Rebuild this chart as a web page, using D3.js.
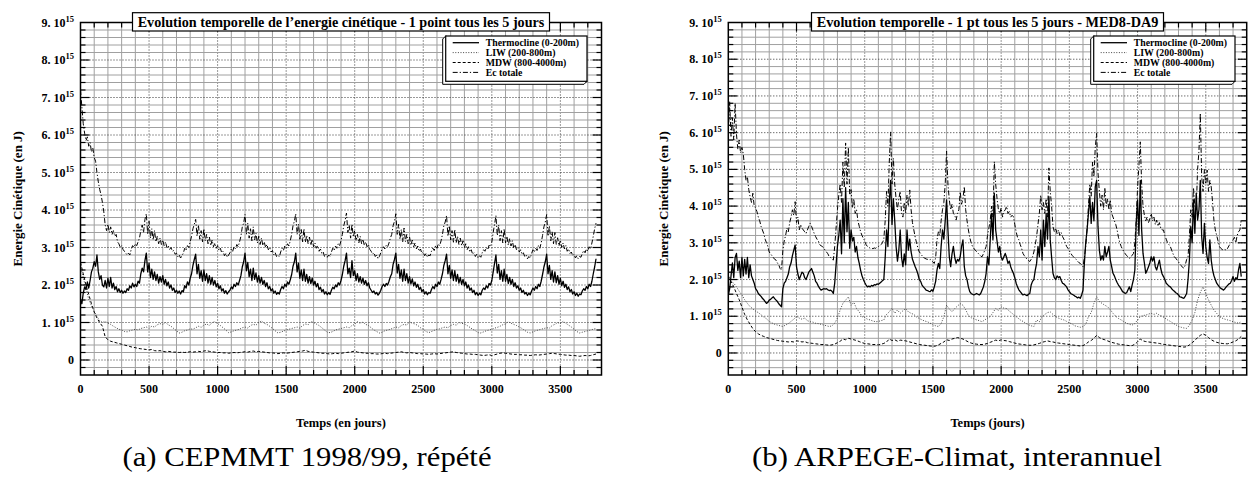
<!DOCTYPE html>
<html>
<head>
<meta charset="utf-8">
<script src="https://cdn.jsdelivr.net/npm/d3@7"></script>
<style>
  body { margin: 0; background: #fff; }
  svg text { font-family: "Liberation Serif", "Times New Roman", serif; }
</style>
</head>
<body>
<svg id="chart" width="1251" height="497"></svg>
<script>
// values in 10^15 J ; thermocline & total sampled every 10 days, LIW & MDW every 20 days

// (a) CEPMMT 1998/99 repeated
const ceThermo = [
  1.60,1.50,1.78,1.95,1.88,2.08,1.92,2.12,2.35,2.45,
  2.62,2.50,2.80,2.35,2.15,2.25,2.00,1.95,2.12,1.92,
  2.18,1.96,2.20,1.92,2.05,1.88,1.96,1.82,1.90,1.80,
  1.86,1.78,1.84,1.80,1.90,1.86,1.98,1.92,2.05,1.95,
  2.02,1.96,2.10,2.05,2.30,2.45,2.35,2.65,2.85,2.35,
  2.58,2.20,2.42,2.15,2.35,2.12,2.28,2.05,2.22,2.08,
  2.25,2.02,2.15,1.98,2.08,1.92,2.00,1.86,1.92,1.80,
  1.86,1.78,1.84,1.76,1.85,1.82,1.98,1.92,2.08,2.00,
  2.18,2.30,2.52,2.68,2.82,2.30,2.55,2.18,2.38,2.10,
  2.40,2.12,2.30,2.05,2.25,2.02,2.20,2.00,2.12,1.95,
  2.05,1.90,1.98,1.84,1.90,1.78,1.85,1.76,1.82,1.86,
  1.95,1.90,2.02,1.96,2.06,2.00,2.12,2.25,2.48,2.62,
  2.85,2.38,2.60,2.22,2.42,2.12,2.45,2.15,2.32,2.08,
  2.25,2.05,2.20,2.02,2.12,1.96,2.06,1.90,1.96,1.84,
  1.90,1.78,1.84,1.75,1.80,1.76,1.88,1.96,1.90,2.02,
  1.96,2.08,2.02,2.14,2.28,2.50,2.62,2.85,2.35,2.58,
  2.18,2.40,2.12,2.42,2.10,2.28,2.05,2.22,2.04,2.18,
  2.00,2.10,1.95,2.04,1.88,1.94,1.82,1.88,1.76,1.82,
  1.74,1.80,1.75,1.86,1.94,1.90,2.00,1.95,2.06,2.00,
  2.12,2.28,2.50,2.65,2.85,2.30,2.45,2.20,2.65,2.25,
  2.38,2.12,2.30,2.08,2.22,2.05,2.18,2.02,2.12,1.98,
  2.06,1.92,1.86,1.80,1.84,1.76,1.80,1.73,1.78,1.86,
  1.96,2.02,1.96,2.04,2.00,2.10,2.22,2.30,2.55,2.68,
  2.85,2.32,2.55,2.18,2.40,2.10,2.42,2.12,2.30,2.05,
  2.22,2.03,2.16,1.98,2.08,1.94,2.02,1.88,1.94,1.82,
  1.88,1.76,1.82,1.74,1.80,1.78,1.88,1.96,1.90,2.02,
  1.96,2.08,2.02,2.15,2.30,2.52,2.65,2.82,2.30,2.52,
  2.18,2.40,2.12,2.38,2.10,2.28,2.05,2.20,2.02,2.15,
  1.98,2.08,1.92,2.00,1.86,1.92,1.80,1.86,1.74,1.80,
  1.72,1.78,1.74,1.86,1.92,1.88,1.98,1.92,2.04,2.00,
  2.12,2.35,2.58,2.80,2.32,2.55,2.15,2.38,2.10,2.42,
  2.10,2.28,2.04,2.20,2.02,2.15,1.96,2.06,1.92,1.98,
  1.86,1.92,1.80,1.86,1.76,1.80,1.72,1.78,1.74,1.84,
  1.92,1.86,1.96,1.90,2.02,1.96,2.10,2.28,2.48,2.62,
  2.82,2.30,2.52,2.15,2.38,2.08,2.35,2.06,2.25,2.02,
  2.18,1.98,2.10,1.94,2.02,1.88,1.95,1.82,1.88,1.76,
  1.82,1.72,1.78,1.70,1.76,1.74,1.84,1.90,1.86,1.96,
  1.90,2.02,1.96,2.10,2.30,2.48,2.70
];
const ceLiw = [
  2.50,2.20,1.90,1.62,1.45,1.30,1.16,1.05,1.00,1.03,
  0.98,0.95,0.90,0.86,0.82,0.80,0.76,0.75,0.78,0.80,
  0.82,0.80,0.84,0.86,0.88,0.85,0.90,0.88,0.94,0.97,
  0.95,1.00,0.94,0.90,0.84,0.78,0.72,0.74,0.78,0.80,
  0.83,0.82,0.86,0.90,0.87,0.93,0.96,0.92,1.00,1.02,
  0.97,0.92,0.86,0.80,0.73,0.75,0.78,0.80,0.82,0.86,
  0.88,0.85,0.92,0.95,0.93,1.00,1.04,0.98,0.95,0.90,
  0.84,0.78,0.72,0.74,0.77,0.80,0.82,0.84,0.86,0.88,
  0.85,0.92,0.96,0.94,1.03,1.00,0.96,0.92,0.86,0.80,
  0.74,0.73,0.76,0.80,0.82,0.84,0.86,0.88,0.86,0.92,
  0.95,1.02,0.98,1.01,0.95,0.92,0.86,0.80,0.76,0.72,
  0.74,0.78,0.80,0.82,0.85,0.88,0.86,0.92,0.95,0.93,
  1.02,0.98,0.96,0.92,0.86,0.82,0.76,0.73,0.76,0.79,
  0.82,0.83,0.86,0.88,0.86,0.92,0.95,0.93,1.00,0.98,
  0.96,0.92,0.87,0.82,0.78,0.73,0.72,0.75,0.78,0.80,
  0.82,0.85,0.87,0.90,0.94,0.96,1.02,0.98,0.95,0.92,
  0.88,0.84,0.79,0.74,0.72,0.75,0.78,0.80,0.82,0.84,
  0.86,0.85,0.92,0.95,1.00,0.97,1.03,0.98,0.93,0.88,
  0.82,0.76,0.72,0.74,0.76,0.78,0.80,0.82,0.84
];
const ceMdw = [
  2.60,2.30,2.00,1.75,1.50,1.28,1.12,1.00,0.90,0.62,
  0.54,0.50,0.48,0.46,0.44,0.42,0.40,0.38,0.36,0.34,
  0.33,0.31,0.30,0.29,0.28,0.27,0.28,0.25,0.24,0.25,
  0.23,0.22,0.23,0.22,0.21,0.21,0.20,0.21,0.20,0.21,
  0.22,0.21,0.22,0.23,0.22,0.24,0.25,0.23,0.22,0.21,
  0.20,0.20,0.19,0.19,0.18,0.19,0.20,0.19,0.20,0.21,
  0.22,0.21,0.23,0.24,0.22,0.23,0.22,0.21,0.20,0.19,
  0.19,0.18,0.17,0.18,0.19,0.18,0.19,0.20,0.21,0.22,
  0.23,0.24,0.26,0.23,0.22,0.21,0.20,0.19,0.18,0.18,
  0.17,0.16,0.17,0.18,0.17,0.18,0.19,0.20,0.21,0.22,
  0.24,0.21,0.20,0.19,0.18,0.18,0.17,0.17,0.16,0.16,
  0.17,0.18,0.17,0.18,0.19,0.20,0.21,0.22,0.20,0.19,
  0.20,0.19,0.18,0.17,0.17,0.16,0.16,0.15,0.16,0.17,
  0.16,0.17,0.18,0.19,0.20,0.21,0.22,0.20,0.19,0.18,
  0.17,0.16,0.16,0.15,0.15,0.14,0.13,0.12,0.13,0.14,
  0.12,0.14,0.16,0.18,0.19,0.18,0.17,0.16,0.15,0.15,
  0.14,0.14,0.13,0.13,0.12,0.13,0.14,0.13,0.14,0.15,
  0.16,0.17,0.18,0.17,0.16,0.15,0.14,0.13,0.13,0.12,
  0.12,0.11,0.10,0.11,0.12,0.11,0.12,0.14,0.16
];
const ceTotal = [
  7.20,6.75,6.30,6.05,5.85,5.95,5.70,5.80,5.55,5.65,
  5.40,5.30,5.00,4.75,4.55,4.40,4.20,3.95,3.60,3.45,
  3.62,3.40,3.55,3.35,3.45,3.30,3.35,3.15,3.10,3.00,
  3.05,2.95,2.90,2.85,2.80,2.85,2.80,2.95,3.05,3.00,
  3.10,3.05,3.15,3.25,3.45,3.60,3.40,3.75,3.90,3.35,
  3.70,3.25,3.50,3.20,3.45,3.15,3.30,3.10,3.25,3.08,
  3.20,3.05,3.15,3.00,3.05,2.95,3.00,2.90,2.92,2.82,
  2.85,2.75,2.80,2.72,2.78,2.85,2.98,2.92,3.05,3.00,
  3.15,3.30,3.50,3.62,3.75,3.30,3.60,3.22,3.45,3.15,
  3.50,3.18,3.35,3.10,3.28,3.05,3.20,3.02,3.12,2.98,
  3.05,2.92,2.98,2.86,2.90,2.78,2.84,2.74,2.80,2.86,
  2.96,2.90,3.02,2.96,3.08,3.02,3.15,3.30,3.55,3.65,
  3.88,3.35,3.65,3.25,3.50,3.18,3.55,3.20,3.38,3.12,
  3.30,3.08,3.25,3.05,3.15,3.00,3.08,2.94,3.00,2.88,
  2.92,2.80,2.86,2.76,2.80,2.75,2.88,2.98,2.92,3.04,
  2.98,3.10,3.04,3.18,3.35,3.58,3.70,3.90,3.35,3.62,
  3.22,3.48,3.15,3.50,3.14,3.32,3.10,3.28,3.06,3.22,
  3.02,3.12,2.98,3.05,2.90,2.96,2.84,2.88,2.76,2.82,
  2.74,2.80,2.76,2.88,2.98,2.92,3.04,2.98,3.10,3.05,
  3.18,3.35,3.58,3.72,3.92,3.40,3.60,3.25,3.62,3.28,
  3.45,3.18,3.35,3.12,3.30,3.10,3.22,3.06,3.15,3.02,
  3.08,2.95,2.90,2.82,2.86,2.76,2.80,2.70,2.76,2.86,
  2.96,3.02,2.96,3.06,3.02,3.12,3.25,3.35,3.58,3.70,
  3.90,3.35,3.62,3.22,3.48,3.15,3.52,3.16,3.35,3.10,
  3.28,3.06,3.20,3.02,3.12,2.96,3.04,2.90,2.96,2.84,
  2.88,2.78,2.84,2.74,2.80,2.78,2.90,2.98,2.92,3.05,
  2.98,3.10,3.05,3.18,3.35,3.58,3.68,3.85,3.30,3.58,
  3.20,3.45,3.14,3.48,3.12,3.30,3.08,3.25,3.05,3.18,
  3.00,3.10,2.94,3.02,2.88,2.94,2.82,2.86,2.76,2.82,
  2.72,2.78,2.74,2.86,2.94,2.90,3.00,2.94,3.06,3.02,
  3.15,3.40,3.62,3.85,3.32,3.60,3.18,3.45,3.12,3.50,
  3.12,3.30,3.06,3.24,3.04,3.18,2.98,3.08,2.94,3.00,
  2.88,2.94,2.82,2.86,2.76,2.80,2.70,2.76,2.72,2.84,
  2.94,2.88,2.98,2.92,3.05,2.98,3.12,3.32,3.55,3.68,
  3.88,3.30,3.58,3.18,3.42,3.10,3.40,3.08,3.26,3.04,
  3.20,3.00,3.12,2.96,3.05,2.90,2.96,2.84,2.88,2.78,
  2.82,2.72,2.78,2.70,2.76,2.74,2.84,2.92,2.86,2.96,
  2.90,3.02,2.96,3.12,3.30,3.50,3.65
];

// (b) ARPEGE-Climat interannual
const arThermo = [
  1.57,1.75,2.10,2.45,2.05,2.60,2.71,2.25,2.50,2.05,
  2.60,2.10,2.55,2.15,2.60,2.05,2.40,2.10,2.00,1.90,
  1.75,1.70,1.62,1.58,1.54,1.49,1.45,1.40,1.35,1.38,
  1.44,1.46,1.50,1.53,1.48,1.44,1.40,1.34,1.30,1.26,
  1.75,1.90,1.95,2.05,2.15,2.35,2.45,2.65,2.80,2.94,
  2.35,2.15,2.00,2.10,2.20,2.17,2.05,2.00,2.10,2.20,
  2.25,2.30,2.20,2.10,1.95,1.90,1.82,1.76,1.71,1.73,
  1.75,1.74,1.75,1.72,1.70,1.71,1.68,1.62,1.90,2.40,
  2.90,3.20,3.62,2.70,4.20,3.00,4.50,3.30,4.10,2.85,
  3.35,3.05,3.15,2.75,2.90,2.60,2.44,2.25,2.10,2.00,
  1.92,1.85,1.80,1.82,1.80,1.84,1.82,1.86,1.85,1.88,
  1.87,1.90,1.93,1.97,2.00,2.60,3.35,2.90,4.10,4.70,
  3.50,4.20,3.60,2.90,2.50,2.80,3.35,2.60,2.35,2.70,
  2.40,3.35,2.80,3.10,2.75,2.55,2.45,2.35,2.26,2.15,
  2.00,1.95,1.85,1.80,1.76,1.71,1.70,1.68,1.67,1.72,
  1.68,1.80,1.95,2.26,2.44,2.30,2.90,3.35,3.10,3.60,
  4.17,3.35,2.62,2.35,2.70,2.90,2.60,2.44,2.55,2.50,
  2.62,2.90,3.08,2.35,2.10,2.00,1.80,1.67,1.62,1.60,
  1.58,1.60,1.62,1.60,1.58,1.62,1.71,1.80,1.95,2.17,
  2.62,2.40,3.08,3.80,3.08,4.35,3.35,3.05,2.75,2.90,
  2.60,2.53,2.62,2.71,2.60,2.44,2.50,2.35,2.25,2.17,
  2.05,1.90,1.80,1.72,1.67,1.62,1.58,1.60,1.58,1.56,
  1.60,1.62,1.85,1.95,2.00,2.25,2.44,2.90,2.62,3.35,
  2.53,3.62,2.90,3.80,3.10,4.26,3.08,2.60,2.17,2.05,
  2.00,2.10,2.05,2.08,1.98,1.90,1.88,1.84,1.80,1.72,
  1.67,1.62,1.60,1.58,1.55,1.53,1.50,1.52,1.49,1.58,
  1.71,2.44,3.00,3.35,3.80,4.26,3.53,4.10,3.60,4.53,
  4.70,3.44,2.80,2.53,2.65,2.53,2.90,2.62,2.75,2.90,
  2.53,2.35,2.17,2.10,2.00,1.92,1.85,1.80,1.74,1.67,
  1.65,1.62,1.64,1.72,1.80,1.67,1.85,2.00,2.26,3.53,
  4.17,3.20,4.70,3.35,2.71,2.45,2.17,2.25,2.35,2.45,
  2.62,2.50,2.62,2.35,2.26,2.40,2.53,2.30,2.15,2.08,
  2.00,1.90,1.86,1.82,1.80,1.75,1.71,1.68,1.64,1.62,
  1.58,1.53,1.52,1.50,1.49,1.55,1.62,2.00,2.53,3.44,
  3.00,4.17,3.26,4.35,3.62,3.90,4.70,3.17,2.71,3.53,
  2.90,2.60,2.44,3.08,2.53,2.26,2.10,2.00,1.90,1.85,
  1.80,1.76,1.74,1.71,1.75,1.80,1.84,1.88,1.90,1.98,
  2.08,1.95,2.05,2.00,2.26,2.44,2.08
];
const arLiw = [
  2.00,1.95,1.90,1.80,1.68,1.58,1.45,1.35,1.26,1.20,
  1.14,1.10,1.04,0.98,0.93,0.86,0.82,0.78,0.76,0.74,
  0.72,0.76,0.80,0.86,0.92,0.99,0.95,0.92,0.95,0.88,
  0.85,0.84,0.81,0.80,0.78,0.76,0.74,0.72,0.74,0.81,
  0.95,1.17,1.35,1.44,1.53,1.30,1.38,1.21,1.12,0.99,
  0.96,0.92,0.90,0.87,0.85,0.86,0.88,0.90,1.05,1.12,
  1.22,1.08,1.17,1.08,1.15,1.21,1.12,1.08,1.05,0.98,
  0.94,0.90,0.87,0.85,0.81,0.77,0.74,0.72,0.80,0.99,
  1.30,1.20,1.12,1.21,1.28,1.34,1.30,1.18,1.02,0.96,
  0.93,0.90,0.88,0.85,0.90,0.95,0.99,1.10,1.21,1.16,
  1.26,1.22,1.21,1.14,1.08,1.02,0.96,0.90,0.86,0.81,
  0.77,0.74,0.72,0.90,0.85,0.99,1.05,1.10,1.12,1.05,
  0.99,0.95,0.92,0.90,0.86,0.82,0.79,0.74,0.72,0.70,
  0.72,0.78,0.99,1.10,1.35,1.53,1.40,1.35,1.30,1.26,
  1.18,1.08,1.00,0.94,0.90,0.85,0.81,0.78,0.76,0.80,
  0.90,0.99,1.02,1.03,1.06,1.08,1.05,1.08,1.03,1.00,
  0.95,0.90,0.86,0.81,0.77,0.72,0.70,0.68,0.67,0.75,
  0.90,1.10,1.44,1.65,1.80,1.62,1.45,1.30,1.17,1.08,
  0.99,0.95,0.92,0.90,0.88,0.85,0.83,0.81,0.85
];
const arMdw = [
  2.10,1.95,1.80,1.62,1.45,1.25,1.05,0.90,0.78,0.66,
  0.58,0.52,0.48,0.45,0.42,0.40,0.38,0.36,0.34,0.33,
  0.32,0.31,0.30,0.31,0.30,0.33,0.32,0.30,0.31,0.28,
  0.27,0.26,0.25,0.24,0.23,0.23,0.22,0.21,0.22,0.24,
  0.28,0.32,0.38,0.36,0.40,0.38,0.36,0.34,0.31,0.28,
  0.26,0.25,0.24,0.23,0.23,0.22,0.24,0.26,0.30,0.38,
  0.34,0.36,0.32,0.35,0.34,0.33,0.31,0.29,0.27,0.25,
  0.23,0.22,0.21,0.20,0.19,0.18,0.19,0.22,0.26,0.30,
  0.36,0.34,0.38,0.40,0.42,0.40,0.38,0.34,0.30,0.27,
  0.25,0.24,0.23,0.23,0.24,0.26,0.29,0.32,0.35,0.33,
  0.36,0.34,0.33,0.31,0.29,0.27,0.25,0.24,0.23,0.22,
  0.21,0.21,0.22,0.24,0.26,0.29,0.31,0.33,0.31,0.30,
  0.28,0.27,0.26,0.25,0.24,0.23,0.22,0.21,0.20,0.19,
  0.20,0.24,0.30,0.34,0.40,0.48,0.42,0.38,0.36,0.33,
  0.30,0.28,0.26,0.24,0.23,0.22,0.21,0.20,0.20,0.24,
  0.30,0.38,0.33,0.31,0.30,0.29,0.28,0.27,0.26,0.24,
  0.23,0.22,0.21,0.20,0.19,0.18,0.17,0.16,0.17,0.22,
  0.28,0.34,0.42,0.48,0.52,0.48,0.42,0.36,0.32,0.29,
  0.27,0.26,0.25,0.25,0.27,0.30,0.33,0.38,0.45
];
const arTotal = [
  6.00,6.84,5.90,6.40,5.80,6.80,5.95,5.55,5.80,5.45,
  5.60,5.42,5.00,4.70,4.80,4.45,4.25,4.10,4.35,4.00,
  3.95,3.85,3.70,3.60,3.45,3.35,3.25,3.10,3.00,2.90,
  2.75,2.70,2.65,2.60,2.55,2.53,2.45,2.40,2.30,2.26,
  2.80,3.05,3.20,3.40,3.30,3.55,3.70,3.90,3.75,4.12,
  3.55,3.70,3.35,3.50,3.40,3.35,3.30,3.25,3.35,3.45,
  3.53,3.45,3.35,3.25,3.17,3.10,3.05,2.95,2.92,2.90,
  2.85,2.80,2.75,2.70,2.62,2.60,2.55,2.53,2.90,3.40,
  3.90,4.30,4.60,4.10,5.20,4.50,5.72,4.60,5.60,4.30,
  4.45,3.95,4.20,3.80,3.90,3.60,3.45,3.30,3.20,3.12,
  3.05,2.95,2.90,2.88,2.85,2.86,2.84,2.86,2.85,2.88,
  2.90,2.92,2.95,3.00,3.10,3.60,4.40,4.00,5.20,6.02,
  4.60,5.30,4.60,4.20,3.90,4.20,4.40,3.80,3.70,4.10,
  3.80,4.30,4.00,4.44,3.90,3.55,3.35,3.15,3.00,2.85,
  2.75,2.71,2.65,2.60,2.58,2.56,2.55,2.53,2.55,2.52,
  2.48,2.44,2.60,3.08,3.30,3.20,3.60,3.90,4.10,4.60,
  5.50,4.60,4.17,3.90,4.05,3.80,3.75,3.62,3.80,3.90,
  4.39,4.05,4.20,4.53,3.90,3.60,3.35,3.15,3.00,2.90,
  2.85,2.80,2.76,2.72,2.68,2.64,2.62,2.70,2.80,2.90,
  3.20,3.40,3.62,4.00,3.70,5.21,4.60,4.20,3.90,3.80,
  3.95,3.70,3.85,3.90,3.99,3.80,3.85,3.70,3.75,3.71,
  3.50,3.30,3.15,3.08,2.95,2.85,2.71,2.65,2.60,2.55,
  2.52,2.49,2.55,2.62,2.75,2.95,3.17,3.50,3.80,4.30,
  3.90,4.10,3.80,4.20,3.70,5.04,4.40,4.00,3.44,3.30,
  3.40,3.25,3.35,3.20,3.28,3.17,3.10,3.00,2.90,2.85,
  2.78,2.72,2.66,2.62,2.58,2.55,2.50,2.46,2.44,2.40,
  2.35,2.60,2.90,3.40,4.00,4.60,4.27,5.20,4.80,5.60,
  5.98,4.90,4.40,4.00,4.30,3.90,4.50,4.00,4.20,3.90,
  4.17,3.80,3.70,3.60,3.50,3.35,3.15,3.00,2.90,2.82,
  2.76,2.70,2.65,2.62,2.58,2.60,2.66,2.71,3.00,3.62,
  4.50,5.10,5.75,4.60,4.00,3.75,3.60,3.70,3.55,3.65,
  3.80,3.60,3.70,3.50,3.62,3.45,3.55,3.40,3.35,3.35,
  3.20,3.10,3.00,2.95,2.90,2.80,2.70,2.62,2.58,2.53,
  2.48,2.42,2.38,2.33,2.31,2.40,2.55,2.62,3.20,3.90,
  3.70,4.50,4.00,3.90,5.00,5.50,6.53,4.80,4.40,5.00,
  4.60,4.98,4.40,4.70,4.52,4.10,3.60,3.35,3.20,3.05,
  2.90,2.85,2.82,2.80,2.82,2.80,2.85,2.92,2.98,3.02,
  3.08,3.15,3.00,3.20,3.30,3.35,3.62
];

const seriesNames = ['Thermocline (0-200m)', 'LIW (200-800m)', 'MDW (800-4000m)', 'Ec totale'];
const seriesSteps = [10, 20, 20, 10];
const xTickValues = [0, 500, 1000, 1500, 2000, 2500, 3000, 3500];
const yTickValues = [0, 1, 2, 3, 4, 5, 6, 7, 8, 9];

const styles = [
  { width: 1.3, dash: null, color: '#000' },
  { width: 1.0, dash: '1,1.6', color: '#444' },
  { width: 1.0, dash: '3,2', color: '#000' },
  { width: 1.0, dash: '5,2,1.2,2', color: '#000' }
];

const panels = [
  {
    id: 'a', left: 80.5, right: 601.5, yMin: -0.4,
    title: 'Evolution temporelle de l\u2019energie cinétique - 1 point tous les 5 jours', titleW: 407,
    xTitle: 'Temps (en jours)', caption: '(a) CEPMMT 1998/99, répété', capX: 307, capW: 369,
    yTitleX: 17, legendRight: 587,
    data: [ceThermo, ceLiw, ceMdw, ceTotal]
  },
  {
    id: 'b', left: 728.3, right: 1246.7, yMin: -0.6,
    title: 'Evolution temporelle - 1 pt tous les 5 jours - MED8-DA9', titleW: 342,
    xTitle: 'Temps (jours)', caption: '(b) ARPEGE-Climat, interannuel', capX: 957, capW: 410,
    yTitleX: 663, legendRight: 1235,
    data: [arThermo, arLiw, arMdw, arTotal]
  }
];

const TOP = 22.5, BOTTOM = 375;
const svg = d3.select('#chart');

panels.forEach(p => {
  const g = svg.append('g').attr('class', 'panel-' + p.id);
  const x = d3.scaleLinear().domain([0, 3800]).range([p.left, p.right]);
  const y = d3.scaleLinear().domain([p.yMin, 9]).range([BOTTOM, TOP]);

  // grid
  const xs = d3.range(1, 38).map(k => k * 100);
  const ys = d3.range(Math.round(p.yMin * 5) + 1, 45).map(k => k / 5);
  const isMajorY = v => Math.abs(v - Math.round(v)) < 1e-6;

  g.selectAll('line.gx').data(xs).enter().append('line')
    .attr('x1', d => x(d)).attr('x2', d => x(d))
    .attr('y1', TOP).attr('y2', BOTTOM)
    .attr('stroke', d => d % 500 === 0 ? '#333' : '#a0a0a0')
    .attr('stroke-width', 1)
    .attr('stroke-dasharray', d => d % 500 === 0 ? '1,2' : null);

  g.selectAll('line.gy').data(ys).enter().append('line')
    .attr('x1', p.left).attr('x2', p.right)
    .attr('y1', d => y(d)).attr('y2', d => y(d))
    .attr('stroke', d => isMajorY(d) ? '#333' : '#a0a0a0')
    .attr('stroke-width', 1)
    .attr('stroke-dasharray', d => isMajorY(d) ? '1,2' : null);

  // clip
  const clipId = 'clip-' + p.id;
  svg.append('clipPath').attr('id', clipId).append('rect')
    .attr('x', p.left).attr('y', TOP).attr('width', p.right - p.left).attr('height', BOTTOM - TOP);

  const plot = g.append('g').attr('clip-path', 'url(#' + clipId + ')');
  [3, 2, 1, 0].forEach(i => {
    const step = seriesSteps[i];
    const line = d3.line()
      .x((d, j) => x(j * step))
      .y(d => y(d));
    plot.append('path')
      .attr('fill', 'none')
      .attr('stroke', styles[i].color)
      .attr('stroke-width', styles[i].width)
      .attr('stroke-dasharray', styles[i].dash)
      .attr('stroke-linejoin', 'round')
      .attr('d', line(p.data[i]));
  });

  // frame
  g.append('rect')
    .attr('x', p.left).attr('y', TOP)
    .attr('width', p.right - p.left).attr('height', BOTTOM - TOP)
    .attr('fill', 'none').attr('stroke', '#000').attr('stroke-width', 1.5);

  // ticks on all four sides
  ys.forEach(v => {
    const len = isMajorY(v) ? 9 : 5;
    g.append('line').attr('x1', p.left).attr('x2', p.left + len)
      .attr('y1', y(v)).attr('y2', y(v)).attr('stroke', '#000').attr('stroke-width', 1.2);
    g.append('line').attr('x1', p.right).attr('x2', p.right - len)
      .attr('y1', y(v)).attr('y2', y(v)).attr('stroke', '#000').attr('stroke-width', 1.2);
  });
  xs.forEach(d => {
    const len = d % 500 === 0 ? 9 : 5;
    g.append('line').attr('x1', x(d)).attr('x2', x(d))
      .attr('y1', BOTTOM).attr('y2', BOTTOM - len).attr('stroke', '#000').attr('stroke-width', 1.2);
    g.append('line').attr('x1', x(d)).attr('x2', x(d))
      .attr('y1', TOP).attr('y2', TOP + len).attr('stroke', '#000').attr('stroke-width', 1.2);
  });

  // y tick labels
  yTickValues.forEach(v => {
    const t = g.append('text')
      .attr('x', p.left - 6.5).attr('y', y(v) + 4)
      .attr('text-anchor', 'end')
      .attr('font-size', 12).attr('font-weight', 'bold');
    if (v === 0) {
      t.text('0');
    } else {
      t.append('tspan').text(v + '. 10');
      t.append('tspan').attr('dy', -5).attr('font-size', 8.5).text('15');
    }
  });

  // x tick labels
  g.selectAll('text.xt').data(xTickValues).enter().append('text')
    .attr('x', d => x(d)).attr('y', 393)
    .attr('text-anchor', 'middle')
    .attr('font-size', 12).attr('font-weight', 'bold')
    .text(d => d);

  // axis titles
  g.append('text')
    .attr('transform', `translate(${p.yTitleX},${(TOP + BOTTOM) / 2}) rotate(-90)`)
    .attr('text-anchor', 'middle').attr('dy', '0.35em')
    .attr('font-size', 13).attr('font-weight', 'bold')
    .text('Energie Cinétique (en J)');

  g.append('text')
    .attr('x', (p.left + p.right) / 2).attr('y', 427)
    .attr('text-anchor', 'middle')
    .attr('font-size', 12.5).attr('font-weight', 'bold')
    .text(p.xTitle);

  // title box
  const cx = (p.left + p.right) / 2;
  const tb = g.append('g');
  const rect = tb.append('rect').attr('fill', '#fff').attr('stroke', '#000').attr('stroke-width', 1.2);
  const tt = tb.append('text')
    .attr('x', cx).attr('y', 26.5)
    .attr('text-anchor', 'middle')
    .attr('font-size', 13).attr('font-weight', 'bold')
    .text(p.title);
  const w0 = tt.node().getComputedTextLength();
  tt.attr('font-size', 13 * p.titleW / w0);
  rect.attr('x', cx - p.titleW / 2 - 5).attr('y', 12.7)
    .attr('width', p.titleW + 10).attr('height', 18.3);

  // legend (3d box)
  const lx1 = p.legendRight, lx0 = lx1 - 141.3, ly0 = 36, ly1 = 81.3, dep = 3;
  const lg = g.append('g');
  lg.append('polygon')
    .attr('points', [[lx0, ly0], [lx0 - dep, ly0 + dep], [lx0 - dep, ly1 + dep], [lx1 - dep, ly1 + dep], [lx1, ly1]].map(q => q.join(',')).join(' '))
    .attr('fill', '#fff').attr('stroke', '#000').attr('stroke-width', 1);
  lg.append('rect').attr('x', lx0).attr('y', ly0).attr('width', lx1 - lx0).attr('height', ly1 - ly0)
    .attr('fill', '#fff').attr('stroke', '#000').attr('stroke-width', 1.2);
  seriesNames.forEach((name, i) => {
    const ry = ly0 + 6.7 + i * 9.9;
    lg.append('line')
      .attr('x1', lx0 + 7).attr('x2', lx0 + 33.3)
      .attr('y1', ry).attr('y2', ry)
      .attr('stroke', styles[i].color)
      .attr('stroke-width', styles[i].width)
      .attr('stroke-dasharray', styles[i].dash);
    lg.append('text')
      .attr('x', lx0 + 40).attr('y', ry + 3.3)
      .attr('font-size', 9.8).attr('font-weight', 'bold')
      .text(name);
  });

  // caption (Computer Modern is wider than Times: stretch glyphs to the measured width)
  svg.append('text')
    .attr('x', p.capX).attr('y', 466)
    .attr('text-anchor', 'middle')
    .attr('font-size', 27)
    .attr('textLength', p.capW)
    .attr('lengthAdjust', 'spacingAndGlyphs')
    .text(p.caption);
});
</script>
</body>
</html>
